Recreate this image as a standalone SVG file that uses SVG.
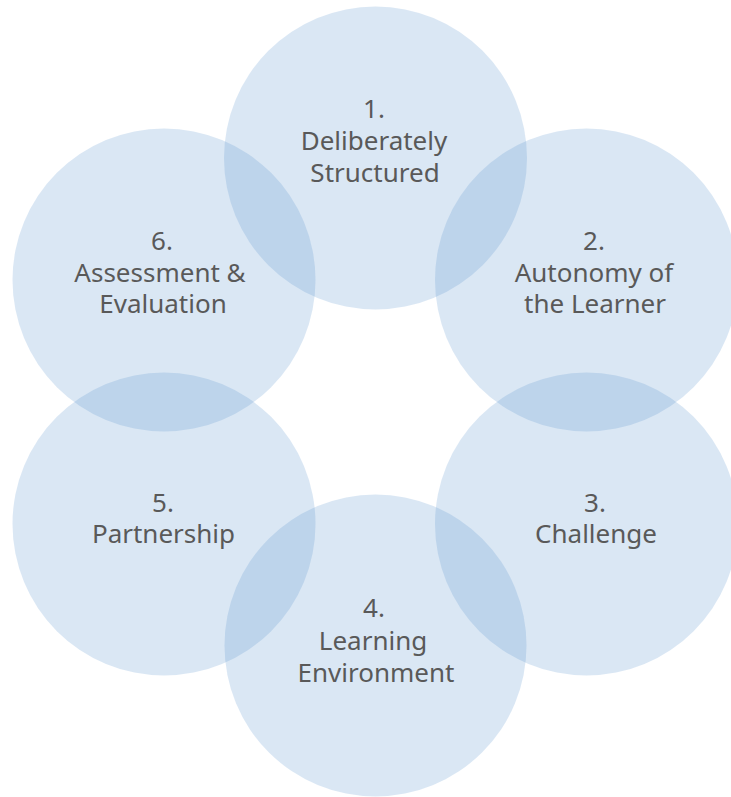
<svg xmlns="http://www.w3.org/2000/svg" width="731" height="797" viewBox="0 0 731 797">
<style>
.c{fill:#5490cc;fill-opacity:0.216;stroke:none}
.t{font-family:"Noto Sans","Open Sans","DejaVu Sans",sans-serif;font-size:26px;fill:#595959;text-anchor:middle}
</style>
<rect width="731" height="797" fill="#ffffff"/>
<g id="connectors"></g>
<g id="node1"><circle class="c" cx="375.5" cy="158" r="151.5"/>
<text class="t" x="374" y="118">1.</text><text class="t" x="374" y="150">Deliberately</text><text class="t" x="375" y="182">Structured</text></g>
<g id="node2"><circle class="c" cx="586.5" cy="280" r="151.5"/>
<text class="t" x="594" y="250">2.</text><text class="t" x="594" y="282">Autonomy of</text><text class="t" x="595" y="313">the Learner</text></g>
<g id="node3"><circle class="c" cx="586.5" cy="524" r="151.5"/>
<text class="t" x="595" y="512">3.</text><text class="t" x="596" y="543">Challenge</text></g>
<g id="node4"><circle class="c" cx="375.5" cy="645.5" r="151"/>
<text class="t" x="374" y="617">4.</text><text class="t" x="373" y="650">Learning</text><text class="t" x="376" y="682">Environment</text></g>
<g id="node5"><circle class="c" cx="164" cy="524" r="151.5"/>
<text class="t" x="163" y="512">5.</text><text class="t" x="163.5" y="543">Partnership</text></g>
<g id="node6"><circle class="c" cx="164" cy="280" r="151.5"/>
<text class="t" x="162" y="250">6.</text><text class="t" x="160" y="282">Assessment &amp;</text><text class="t" x="163" y="313">Evaluation</text></g>
</svg>
